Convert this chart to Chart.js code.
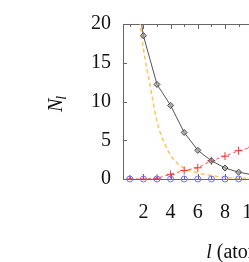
<!DOCTYPE html>
<html>
<head>
<meta charset="utf-8">
<script src="https://cdn.jsdelivr.net/npm/chart.js@4.4.0/dist/chart.umd.min.js"></script>
<style>
html, body { margin: 0; padding: 0; overflow: hidden; background: #fff; }
#wrap { width: 380px; height: 262px; }
</style>
</head>
<body>
<div id="wrap"><canvas id="grafico"></canvas></div>
<script>
// valores
const posicoes = [1, 2, 3, 4, 5, 6, 7, 8, 9, 10];
const serieTotal = [30, 18.5, 12.2, 9.5, 6.0, 3.7, 2.35, 1.42, 0.88, 0.55];
const serieVermelha = [0, 0, 0.1, 0.6, 1.1, 1.45, 2.35, 2.95, 3.65, 4.1];
const serieAzul = [0, 0, 0, 0, 0, 0, 0, 0, 0, 0];
const posicoesLaranja = [1.5, 2, 2.5, 3, 3.5, 4, 4.5, 5, 6, 7, 8, 9, 10];
const serieLaranja = [24, 16.8, 12.0, 7.4, 4.8, 3.1, 2.0, 1.4, 0.8, 0.45, 0.2, 0.1, 0.05];
const ticksX = [1, 2, 3, 4, 5, 6, 7, 8, 9, 10, 11];
const ticksY = [0, 5, 10, 15, 20];

const fonte = '"Liberation Serif", serif';
const corEixo = '#666';

const pares = (xs, ys) => xs.map((v, i) => ({ x: v, y: ys[i] }));

// moldura de cima e marcas para dentro
const moldura = {
    id: 'moldura',
    beforeDatasetsDraw(chart) {
        const { ctx, chartArea: a, scales: { x, y } } = chart;
        ctx.save();
        ctx.strokeStyle = corEixo;
        ctx.lineWidth = 1;
        ctx.beginPath();
        ctx.moveTo(a.left, Math.round(a.top) + 0.5);
        ctx.lineTo(a.right, Math.round(a.top) + 0.5);
        x.ticks.forEach(t => {
            const px = Math.round(x.getPixelForValue(t.value)) + 0.5;
            const len = t.value % 2 === 0 ? 5 : 3;
            ctx.moveTo(px, a.bottom);
            ctx.lineTo(px, a.bottom - len);
            ctx.moveTo(px, a.top);
            ctx.lineTo(px, a.top + len);
        });
        y.ticks.forEach(t => {
            if (t.value <= 0 || t.value >= 20) return;
            const py = Math.round(y.getPixelForValue(t.value)) + 0.5;
            ctx.moveTo(a.left, py);
            ctx.lineTo(a.left + 4, py);
        });
        ctx.stroke();
        ctx.restore();
    },
    afterDraw(chart) {
        const { ctx, chartArea: a } = chart;
        ctx.save();
        ctx.fillStyle = '#111';
        ctx.textBaseline = 'alphabetic';
        ctx.textAlign = 'left';
        // titulo do eixo x
        ctx.font = 'italic 20px ' + fonte;
        const wl = ctx.measureText('l').width;
        ctx.font = '20px ' + fonte;
        const resto = ' (atoms)';
        const wr = ctx.measureText(resto).width;
        const x0 = (a.left + a.right) / 2 - (wl + wr) / 2;
        ctx.font = 'italic 20px ' + fonte;
        ctx.fillText('l', x0, 258);
        ctx.font = '20px ' + fonte;
        ctx.fillText(resto, x0 + wl, 258);
        // titulo do eixo y
        ctx.translate(62, 112);
        ctx.rotate(-Math.PI / 2);
        ctx.font = 'italic 20px ' + fonte;
        ctx.fillText('N', 0, 0);
        const wn = ctx.measureText('N').width;
        ctx.font = 'italic 14px ' + fonte;
        ctx.fillText('l', wn - 1, 4);
        ctx.restore();
    }
};

const ctx = document.getElementById('grafico').getContext('2d');
const grafico = new Chart(ctx, {
    type: 'line',
    data: {
        datasets: [{
            data: pares(posicoes, serieAzul),
            showLine: false,
            pointStyle: 'circle',
            pointRadius: 3,
            pointBorderWidth: 1,
            pointBorderColor: '#6f6fff',
            pointBackgroundColor: 'rgba(0,0,0,0)',
            clip: false
        }, {
            data: pares(posicoes, serieTotal),
            borderColor: '#555',
            borderWidth: 1,
            pointStyle: 'rectRot',
            pointRadius: 3,
            pointBorderWidth: 1,
            pointBorderColor: '#444',
            pointBackgroundColor: 'rgba(150,150,150,0.6)'
        }, {
            data: pares(posicoes, serieVermelha),
            borderColor: '#ff4a4a',
            borderWidth: 1,
            borderDash: [3, 3],
            pointStyle: 'cross',
            pointRadius: 4,
            pointBorderWidth: 1,
            pointBorderColor: '#ff3030'
        }, {
            data: pares(posicoesLaranja, serieLaranja),
            borderColor: '#ffc35a',
            borderWidth: 1.5,
            borderDash: [4, 3],
            pointRadius: 0,
            cubicInterpolationMode: 'monotone'
        }]
    },
    options: {
        animation: false,
        responsive: true,
        maintainAspectRatio: false,
        layout: { padding: { top: 22, right: 19, left: 0, bottom: 0 } },
        plugins: { legend: { display: false }, tooltip: { enabled: false } },
        scales: {
            x: {
                type: 'linear',
                min: 0.5,
                max: 18,
                afterBuildTicks: s => { s.ticks = ticksX.map(v => ({ value: v })); },
                afterFit: s => { s.height = 83; },
                grid: { display: false, drawTicks: false },
                border: { display: true, color: corEixo, width: 1 },
                ticks: {
                    padding: 22,
                    maxRotation: 0,
                    autoSkip: false,
                    color: '#111',
                    font: { family: fonte, size: 20 },
                    callback: v => (v % 2 === 0 ? v : '')
                }
            },
            y: {
                min: 0,
                max: 20,
                afterBuildTicks: s => { s.ticks = ticksY.map(v => ({ value: v })); },
                afterFit: s => { s.width = 123; },
                grid: { display: false, drawTicks: false },
                border: { display: true, color: corEixo, width: 1 },
                ticks: {
                    padding: 12,
                    color: '#111',
                    font: { family: fonte, size: 20 }
                }
            }
        }
    },
    plugins: [moldura]
});
</script>
</body>
</html>
